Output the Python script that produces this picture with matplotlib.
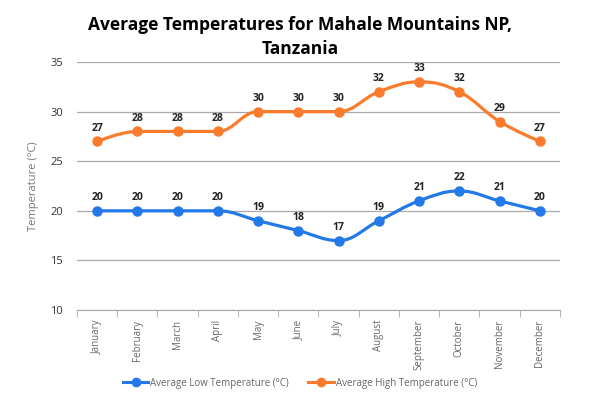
import numpy as np
import matplotlib
matplotlib.use("Agg")
import matplotlib.pyplot as plt
from matplotlib.lines import Line2D
from matplotlib.path import Path
from matplotlib.patches import PathPatch

plt.rcParams['font.family'] = ['Open Sans', 'DejaVu Sans']

months = ["January", "February", "March", "April", "May", "June", "July",
          "August", "September", "October", "November", "December"]
low_temp = [20, 20, 20, 20, 19, 18, 17, 19, 21, 22, 21, 20]
high_temp = [27, 28, 28, 28, 30, 30, 30, 32, 33, 32, 29, 27]

blue = "#2479e8"
orange = "#fa7b2c"


def spline_path(x, y):
    # bezier control points like a highcharts spline (smoothing 1.5, no false extremes)
    n = len(x)
    left = [(x[0], y[0])] * n
    right = [(x[-1], y[-1])] * n
    right[0] = (x[0], y[0])
    left[-1] = (x[-1], y[-1])
    for i in range(1, n - 1):
        lx, ly = x[i - 1], y[i - 1]
        nx, ny = x[i + 1], y[i + 1]
        px, py = x[i], y[i]
        lcx = (1.5 * px + lx) / 2.5
        lcy = (1.5 * py + ly) / 2.5
        rcx = (1.5 * px + nx) / 2.5
        rcy = (1.5 * py + ny) / 2.5
        corr = (rcy - lcy) * (rcx - px) / (rcx - lcx) + py - rcy
        lcy += corr
        rcy += corr
        if lcy > ly and lcy > py:
            lcy = max(ly, py)
            rcy = 2 * py - lcy
        elif lcy < ly and lcy < py:
            lcy = min(ly, py)
            rcy = 2 * py - lcy
        if rcy > ny and rcy > py:
            rcy = max(ny, py)
            lcy = 2 * py - rcy
        elif rcy < ny and rcy < py:
            rcy = min(ny, py)
            lcy = 2 * py - rcy
        left[i] = (lcx, lcy)
        right[i] = (rcx, rcy)
    verts = [(x[0], y[0])]
    codes = [Path.MOVETO]
    for i in range(1, n):
        verts += [right[i - 1], left[i], (x[i], y[i])]
        codes += [Path.CURVE4] * 3
    return Path(verts, codes)


fig = plt.figure(figsize=(6, 3.99), dpi=100)
ax = fig.add_axes([0.1283, 0.223, 0.805, 0.6216])

x = np.arange(len(months))
for vals, col in ((low_temp, blue), (high_temp, orange)):
    ax.add_patch(PathPatch(spline_path(list(x), vals), fill=False,
                           edgecolor=col, lw=2.3, zorder=3))
    ax.plot(x, vals, 'o', color=col, ms=6.5, zorder=4)
    for xi, v in zip(x, vals):
        ax.annotate(str(v), (xi, v), xytext=(0, 5.5), textcoords="offset points",
                    ha="center", va="bottom", fontsize=7.5, fontweight="bold",
                    color="#222222")

ax.set_xlim(-0.5, len(months) - 0.5)
ax.set_ylim(10, 35)
ax.set_yticks(range(10, 36, 5))
ax.grid(axis="y", color="#aaaaaa", lw=0.9)
ax.set_axisbelow(True)
for s in ["top", "right", "left"]:
    ax.spines[s].set_visible(False)
ax.spines["bottom"].set_color("#aaaaaa")
ax.set_xticks(np.arange(len(months) + 1) - 0.5, minor=True)
ax.set_xticks(x)
ax.set_xticklabels(months, rotation=90, fontsize=7, color="#666666")
ax.tick_params(axis="x", which="major", length=0, pad=7)
ax.tick_params(axis="x", which="minor", length=5, color="#aaaaaa")
ax.tick_params(axis="y", length=0, labelsize=8, colors="#333333", pad=10)
ax.set_ylabel("Temperature (°C)", fontsize=8, color="#777777", labelpad=8)

fig.suptitle("Average Temperatures for Mahale Mountains NP,\nTanzania",
             x=0.5, y=0.96, fontsize=12.5, fontweight="bold", linespacing=1.4)

handles = [Line2D([0], [0], color=blue, lw=2.2, marker='o', ms=6),
           Line2D([0], [0], color=orange, lw=2.2, marker='o', ms=6)]
fig.legend(handles, ["Average Low Temperature (°C)", "Average High Temperature (°C)"],
           loc="center", bbox_to_anchor=(0.5, 0.04), ncol=2, frameon=False,
           fontsize=7, labelcolor="#666666", handlelength=2.6, columnspacing=2.0,
           handletextpad=0.2)

fig.savefig("out.png", dpi=100)
